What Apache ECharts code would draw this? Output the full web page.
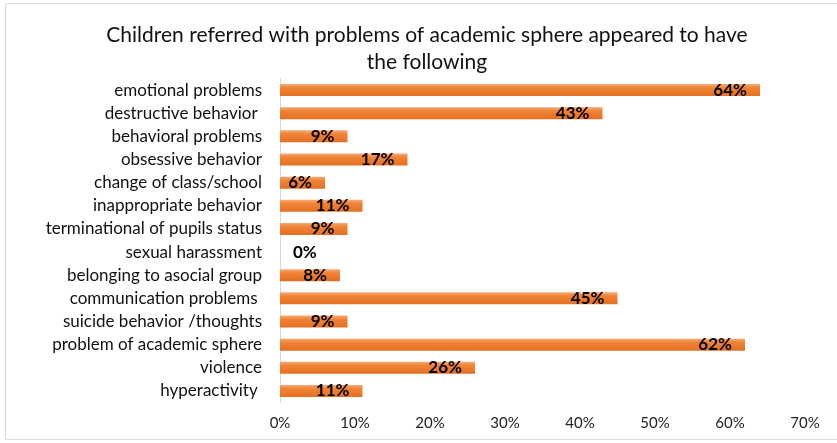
<!DOCTYPE html>
<html>
<head>
<meta charset="utf-8">
<script src="https://cdn.jsdelivr.net/npm/echarts@6/dist/echarts.min.js"></script>
<style>
  html, body { margin: 0; padding: 0; background: #fff; }
  #chart { width: 837px; height: 443px; }
</style>
</head>
<body>
<div id="chart"></div>
<script>
// Categories, top to bottom
const categories = [
  'emotional problems',
  'destructive behavior ',
  'behavioral problems',
  'obsessive behavior',
  'change of class/school',
  'inappropriate behavior',
  'terminational of pupils status',
  'sexual harassment',
  'belonging to asocial group',
  'communication problems ',
  'suicide behavior /thoughts',
  'problem of academic sphere',
  'violence',
  'hyperactivity '
];
// Share of children, percent
const values = [64, 43, 9, 17, 6, 11, 9, 0, 8, 45, 9, 62, 26, 11];
// X axis ticks
const xTicks = [0, 10, 20, 30, 40, 50, 60, 70];

const FONT = 'Lato, "Open Sans", sans-serif';

const barFill = new echarts.graphic.LinearGradient(0, 0, 0, 1, [
  { offset: 0, color: '#F6AA78' },
  { offset: 0.3, color: '#F08437' },
  { offset: 1, color: '#E46F22' }
]);

const seriesData = values.map(v => {
  const item = { value: v };
  if (v === 0) {
    item.label = { position: 'right', distance: 13 };
  }
  return item;
});

const chart = echarts.init(document.getElementById('chart'), null, { renderer: 'canvas' });
chart.setOption({
  animation: false,
  backgroundColor: '#fff',
  title: {
    text: 'Children referred with problems of academic sphere appeared to have\nthe following',
    left: 422,
    top: 17,
    textAlign: 'center',
    textStyle: {
      fontFamily: FONT,
      fontSize: 21,
      fontWeight: 'normal',
      color: '#111',
      lineHeight: 27
    }
  },
  graphic: [{
    type: 'rect',
    shape: { x: 5.5, y: 3.5, width: 845, height: 436 },
    style: { fill: 'none', stroke: '#DADADA', lineWidth: 1 },
    silent: true
  }],
  grid: { left: 280, right: 32, top: 78.5, bottom: 40.5 },
  xAxis: {
    type: 'value',
    min: xTicks[0],
    max: xTicks[xTicks.length - 1],
    interval: 10,
    axisLine: { show: false },
    axisTick: { show: false },
    splitLine: { show: false },
    axisLabel: {
      fontFamily: FONT,
      fontSize: 15,
      color: '#222',
      margin: 13,
      formatter: v => v + '%'
    }
  },
  yAxis: {
    type: 'category',
    data: categories,
    inverse: true,
    axisLine: { show: true, lineStyle: { color: '#D9D9D9', width: 1 } },
    axisTick: { show: false },
    axisLabel: {
      fontFamily: FONT,
      fontSize: 17,
      color: '#111',
      margin: 18
    }
  },
  series: [{
    type: 'bar',
    data: seriesData,
    barWidth: 12,
    itemStyle: { color: barFill },
    label: {
      show: true,
      position: 'insideRight',
      distance: 13,
      fontFamily: FONT,
      fontSize: 17,
      fontWeight: 'bold',
      color: '#000',
      formatter: p => p.value + '%'
    }
  }]
});
</script>
</body>
</html>
